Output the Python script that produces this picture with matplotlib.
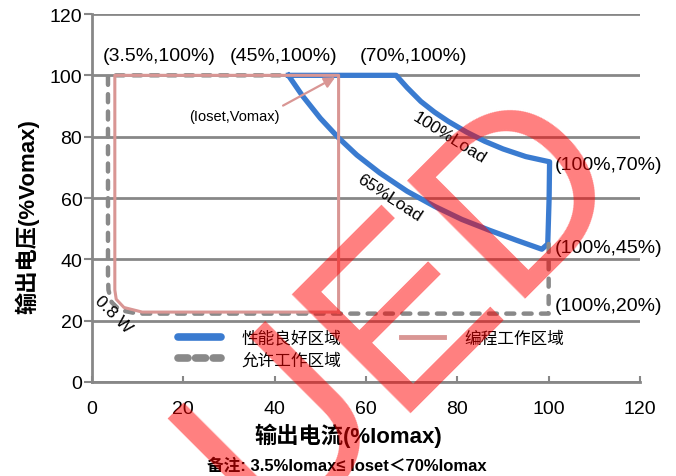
import matplotlib
matplotlib.use('Agg')
import matplotlib.pyplot as plt
from matplotlib.lines import Line2D

plt.rcParams['font.family'] = ['Liberation Sans', 'Noto Sans CJK SC', 'DejaVu Sans']

# 性能良好区域 (blue): top edge, 100%Load curve, right edge, 65%Load curve back
good_x = [43, 66.6, 69, 72, 75, 78, 82, 86, 90, 95, 100.2,
          100.1, 99.8, 98.5, 93, 87, 81, 75, 69, 63, 58, 54, 50, 46, 43]
good_y = [100, 100, 96, 91.5, 88, 85, 81.5, 78.5, 76, 73.5, 71.8,
          60, 45, 43.3, 46.2, 49.5, 53, 57.3, 62.2, 68.2, 74, 79.6, 86, 93.5, 100]

# 允许工作区域 (gray dashed)
allow_x = [100, 100, 10, 6, 4.3, 3.6, 3.5, 3.5, 42]
allow_y = [45, 22.3, 22.3, 23.5, 26, 30, 35, 100, 100]

# 编程工作区域 (pink)
prog_x = [54, 11, 7, 5.3, 5, 5, 54, 54]
prog_y = [22.8, 22.8, 24.3, 27, 30, 100, 100, 22.8]

point_labels = ['(3.5%,100%)', '(45%,100%)', '(70%,100%)', '(100%,70%)', '(100%,45%)', '(100%,20%)']
point_x = [14.8, 41.9, 70.3, 101.3, 101.3, 101.3]
point_y = [106.4, 106.4, 106.4, 70.8, 43.7, 25.1]
point_ha = ['center', 'center', 'center', 'left', 'left', 'left']

x_ticks = [0, 20, 40, 60, 80, 100, 120]
y_ticks = [0, 20, 40, 60, 80, 100, 120]

BLUE = '#3A7BD0'
PINK = '#D99694'
GRAY = '#898989'
GRID = '#878787'

fig = plt.figure(figsize=(6.76, 4.77), dpi=100)
ax = fig.add_axes([92/676, 1-383/477, 548/676, 368/477])

ax.set_xlim(0, 120)
ax.set_ylim(0, 120)
ax.set_xticks(x_ticks)
ax.set_yticks(y_ticks)
ax.tick_params(axis='both', labelsize=14)
ax.tick_params(axis='x', direction='in', length=4, width=1.5, color=GRID, pad=13)
ax.tick_params(axis='y', direction='out', length=6, width=1.5, color=GRID, pad=1)
for s in ['top', 'right']:
    ax.spines[s].set_visible(False)
for s in ['left', 'bottom']:
    ax.spines[s].set_color(GRID)
    ax.spines[s].set_linewidth(2)
ax.yaxis.grid(True, color=GRID, linewidth=2)
ax.set_axisbelow(True)

ax.plot(good_x, good_y, color=BLUE, lw=3.8, solid_joinstyle='round', zorder=3)
ax.plot(allow_x, allow_y, color=GRAY, lw=3.2, linestyle=(0, (1.8, 2.1)),
        dash_capstyle='round', zorder=3)
ax.plot(prog_x, prog_y, color=PINK, lw=2.2, zorder=4)

ax.annotate('', xy=(53.8, 99.8), xytext=(41.3, 89.7),
            arrowprops=dict(arrowstyle='-|>', color=PINK, lw=1.6, mutation_scale=16))
ax.text(31.1, 86.7, '(Ioset,Vomax)', fontsize=10.5, ha='center', va='center')

for lab, px, py, ha in zip(point_labels, point_x, point_y, point_ha):
    ax.text(px, py, lab, fontsize=14, ha=ha, va='center', clip_on=False)

ax.text(78.3, 79.9, '100%Load', fontsize=12.5, rotation=-32, ha='center', va='center')
ax.text(65.1, 60.3, '65%Load', fontsize=12.5, rotation=-33, ha='center', va='center')
ax.text(4.6, 22.2, '0.8 W', fontsize=12.5, rotation=-45, ha='center', va='center')

handles = [Line2D([], [], color=BLUE, lw=5.5, solid_capstyle='round'),
           Line2D([], [], color=GRAY, lw=5.5, linestyle=(0, (1.3, 1.0)), dash_capstyle='round'),
           Line2D([], [], color=PINK, lw=3.5)]
labels = ['性能良好区域', '允许工作区域', '编程工作区域']
ax.legend(handles, labels, ncol=2, loc='upper left',
          bbox_to_anchor=((178-92)/548, (383-331)/368), frameon=False,
          fontsize=12, handlelength=2.6, handletextpad=1.2, columnspacing=3.6,
          labelspacing=0.35, borderpad=0, borderaxespad=0)

ax.set_xlabel('输出电流(%Iomax)', fontsize=16, fontweight='bold')
ax.xaxis.set_label_coords((348-92)/548, (383-436)/368)
ax.xaxis.label.set_va('center')
ax.set_ylabel('输出电压(%Vomax)', fontsize=16, fontweight='bold')
ax.yaxis.set_label_coords((27-92)/548, (383-217)/368)
ax.yaxis.label.set_va('center')

fig.text(347/676, 1-466/477, '备注: 3.5%Iomax≤ Ioset＜70%Iomax', fontsize=12,
         fontweight='bold', ha='center', va='center')

# watermark
fig.text(405/676, 1-312/477, 'UED', fontsize=175, rotation=45, rotation_mode='anchor',
         ha='center', va='center', color='red', alpha=0.5, zorder=10)

fig.savefig('out.png', dpi=100)
